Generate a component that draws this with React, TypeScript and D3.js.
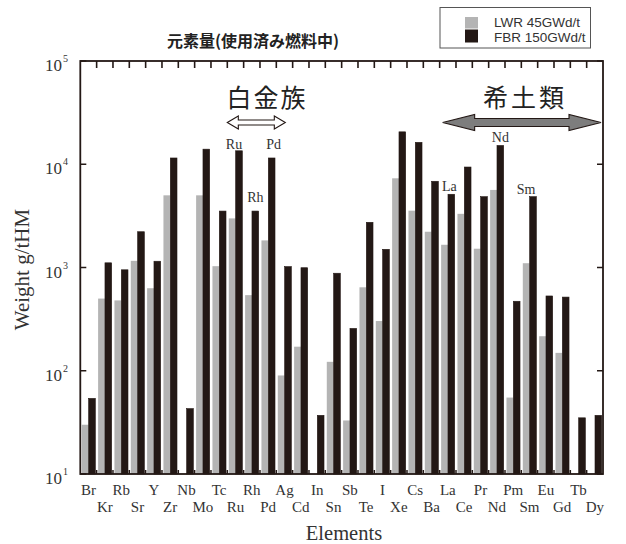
import React from "react";
import * as d3 from "d3";

const elements = ["Br","Kr","Rb","Sr","Y","Zr","Nb","Mo","Tc","Ru","Rh","Pd","Ag","Cd","In","Sn","Sb","Te","I","Xe","Cs","Ba","La","Ce","Pr","Nd","Pm","Sm","Eu","Gd","Tb","Dy"];
const lwr: (number | null)[] = [30,500,480,1160,630,5000,null,5000,1030,2990,540,1830,90,171,null,122,33,643,303,7310,3550,2220,1660,3310,1520,5640,55,1100,216,149,null,null];
const fbr: (number | null)[] = [54,1110,950,2220,1150,11500,43,14000,3520,13500,3520,11500,1020,995,37,880,257,2740,1500,20600,16300,6840,5120,9400,4850,15200,471,4850,530,517,35,37];
const yTicks = [10, 100, 1000, 10000, 100000];
const seriesNames = ["LWR 45GWd/t", "FBR 150GWd/t"];
const barLabels = [
  { el: "Ru", dx: -5, dy: -2 },
  { el: "Rh", dx: 0, dy: -9 },
  { el: "Pd", dx: 2, dy: -9 },
  { el: "La", dx: -2, dy: -3 },
  { el: "Nd", dx: 0, dy: -3 },
  { el: "Sm", dx: -7, dy: -3 },
];

const W = 626, H = 544;
const M = { left: 80.3, right: 603, top: 61, bottom: 474 };
const DARK = "#231815";
const GRAY = "#b4b4b4";

export default function App() {
  const x = d3.scaleBand<string>().domain(elements).range([M.left, M.right]).padding(0);
  const y = d3.scaleLog().domain([10, 100000]).range([M.bottom, M.top]);
  const bw = x.bandwidth();
  const serif = "'Liberation Serif', 'Times New Roman', serif";
  const cjk = "'Noto Sans CJK JP', sans-serif";
  const narrow = "'Liberation Sans Narrow', 'Liberation Sans', sans-serif";

  const blackCenter = (el: string) => (x(el) as number) + bw * 0.51 + bw * 0.205;
  const idx = (el: string) => elements.indexOf(el);

  const ruX0 = x("Ru") as number;
  const pdX1 = (x("Pd") as number) + bw;
  const laX0 = x("La") as number;

  const dblArrow = (x0: number, x1: number, cy: number, shaftH: number, headH: number, headL: number) => {
    const s = shaftH / 2, h = headH / 2;
    return `M${x0},${cy} L${x0 + headL},${cy - h} L${x0 + headL},${cy - s} L${x1 - headL},${cy - s} L${x1 - headL},${cy - h} L${x1},${cy} L${x1 - headL},${cy + h} L${x1 - headL},${cy + s} L${x0 + headL},${cy + s} L${x0 + headL},${cy + h} Z`;
  };

  return (
    <svg width={W} height={H} style={{ position: "absolute", left: 0, top: 0, background: "#fff" }}>
      {elements.map((el, i) => {
        const x0 = x(el) as number;
        const g = lwr[i], b = fbr[i];
        return (
          <g key={el}>
            {g != null && (
              <rect x={x0 + bw * 0.09} y={y(g)} width={bw * 0.42} height={M.bottom - y(g)} fill={GRAY} />
            )}
            {b != null && (
              <rect x={x0 + bw * 0.51} y={y(b)} width={bw * 0.41} height={M.bottom - y(b)} fill={DARK} stroke={DARK} strokeWidth={0.6} />
            )}
          </g>
        );
      })}
      <rect x={M.left} y={M.top} width={M.right - M.left} height={M.bottom - M.top} fill="none" stroke={DARK} strokeWidth={1.8} />
      {elements.slice(1).map((el) => {
        const xx = x(el) as number;
        return (
          <g key={"t" + el}>
            <line x1={xx} x2={xx} y1={M.top} y2={M.top + 7} stroke={DARK} strokeWidth={1.6} />
            <line x1={xx} x2={xx} y1={M.bottom} y2={M.bottom - 4} stroke={DARK} strokeWidth={1.5} />
          </g>
        );
      })}
      {yTicks.map((t) => {
        const yy = y(t);
        const exp = Math.round(Math.log10(t));
        return (
          <g key={"y" + t}>
            <line x1={M.left} x2={M.left + 6} y1={yy} y2={yy} stroke={DARK} strokeWidth={1.5} />
            <line x1={M.right} x2={M.right - 6} y1={yy} y2={yy} stroke={DARK} strokeWidth={1.5} />
            <text x={62} y={yy + 10} textAnchor="end" fontFamily={serif} fontSize={17} fill="#333">10</text>
            <text x={63} y={yy + 1} textAnchor="start" fontFamily={serif} fontSize={10} fill="#333">{exp}</text>
          </g>
        );
      })}
      {elements.map((el, i) => (
        <text key={"xl" + el} x={(x(el) as number) + bw / 2} y={i % 2 === 0 ? 495 : 512} textAnchor="middle" fontFamily={serif} fontSize={15} fill="#333">{el}</text>
      ))}
      <text x={344} y={540} textAnchor="middle" fontFamily={serif} fontSize={20.5} fill="#333">Elements</text>
      <text transform={`translate(29,${(M.top + M.bottom) / 2 + 2}) rotate(-90)`} textAnchor="middle" fontFamily={serif} fontSize={21} fill="#333">Weight g/tHM</text>
      {barLabels.map((l) => (
        <text key={"bl" + l.el} x={blackCenter(l.el) + l.dx} y={y(fbr[idx(l.el)] as number) + l.dy} textAnchor="middle" fontFamily={serif} fontSize={14} fill="#333">{l.el}</text>
      ))}
      <text x={267} y={107} textAnchor="middle" fontFamily={cjk} fontSize={25} letterSpacing={2} fill="#222">白金族</text>
      <path d={dblArrow(ruX0, pdX1 + 9, 122.5, 5, 13, 11)} fill="#fff" stroke={DARK} strokeWidth={1.1} />
      <text x={525} y={107} textAnchor="middle" fontFamily={cjk} fontSize={25} letterSpacing={3} fill="#222">希土類</text>
      <path d={dblArrow(laX0 + 3, M.right - 2, 122.5, 8, 16, 32)} fill="#7d7d7d" stroke={DARK} strokeWidth={1.1} />
      <text x={253} y={47} textAnchor="middle" fontFamily={cjk} fontWeight="bold" fontSize={16} fill="#222">元素量(使用済み燃料中)</text>
      <rect x={440} y={7.5} width={150.5} height={40.5} fill="#fff" stroke="#555" strokeWidth={1} />
      <rect x={465} y={17} width={13} height={11.5} fill={GRAY} />
      <rect x={465} y={29.5} width={13} height={13} fill={DARK} />
      <text x={494} y={27} fontFamily={narrow} fontSize={13.5} fill="#333">{seriesNames[0]}</text>
      <text x={494} y={41.5} fontFamily={narrow} fontSize={13.5} fill="#333">{seriesNames[1]}</text>
    </svg>
  );
}
